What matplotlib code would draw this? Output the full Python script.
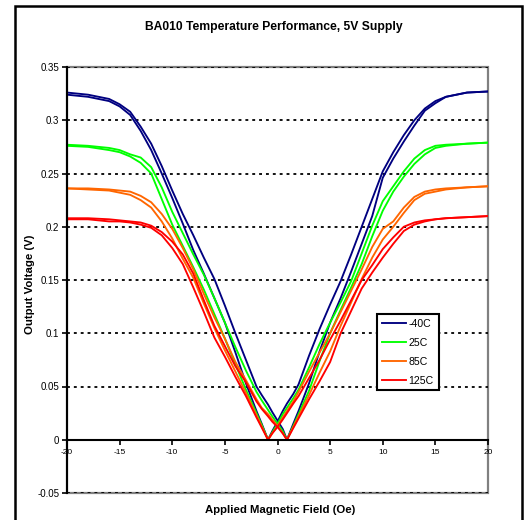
import matplotlib
matplotlib.use("Agg")
import matplotlib.pyplot as plt
from matplotlib.patches import Rectangle
from matplotlib.ticker import FuncFormatter

plt.rcParams["font.family"] = ["Liberation Sans", "DejaVu Sans"]

# applied field (Oe), common to all sweeps
field = [-20, -18, -16, -15, -14, -13, -12, -11, -10, -9, -8, -7, -6, -5, -4, -3, -2, -1.5, -0.9,
         -0.5, 0, 0.5, 0.9,
         1.5, 2, 3, 4, 5, 6, 7, 8, 9, 10, 11, 12, 13, 14, 15, 16, 18, 20]

# output voltage (V), two sweeps per temperature (hysteresis)
v_m40_a = [0.324, 0.322, 0.318, 0.313, 0.305, 0.290, 0.272, 0.250, 0.227, 0.203, 0.178, 0.156,
           0.133, 0.110, 0.082, 0.053, 0.027, 0.015, 0.000,
           0.008, 0.017, 0.027, 0.034,
           0.043, 0.052, 0.079, 0.104, 0.127, 0.149, 0.174, 0.200, 0.226, 0.252, 0.270, 0.286,
           0.300, 0.311, 0.318, 0.322, 0.326, 0.327]
v_m40_b = [0.326, 0.324, 0.320, 0.315, 0.308, 0.294, 0.278, 0.257, 0.234, 0.212, 0.192, 0.171,
           0.151, 0.126, 0.100, 0.075, 0.050, 0.042, 0.033,
           0.026, 0.018, 0.010, 0.000,
           0.015, 0.027, 0.053, 0.083, 0.110, 0.133, 0.158, 0.184, 0.210, 0.246, 0.264, 0.280,
           0.295, 0.309, 0.316, 0.322, 0.326, 0.327]
v_25_a = [0.276, 0.275, 0.272, 0.270, 0.266, 0.260, 0.250, 0.226, 0.202, 0.182, 0.162, 0.141,
          0.118, 0.095, 0.071, 0.047, 0.025, 0.014, 0.000,
          0.007, 0.015, 0.024, 0.030,
          0.039, 0.047, 0.068, 0.090, 0.110, 0.129, 0.149, 0.175, 0.201, 0.224, 0.238, 0.252,
          0.264, 0.272, 0.276, 0.277, 0.278, 0.279]
v_25_b = [0.277, 0.276, 0.274, 0.272, 0.268, 0.265, 0.256, 0.237, 0.214, 0.194, 0.174, 0.155,
          0.133, 0.110, 0.087, 0.065, 0.045, 0.037, 0.028,
          0.022, 0.015, 0.008, 0.000,
          0.013, 0.024, 0.046, 0.074, 0.100, 0.122, 0.143, 0.165, 0.191, 0.215, 0.233, 0.247,
          0.259, 0.268, 0.274, 0.276, 0.278, 0.279]
v_85_a = [0.236, 0.235, 0.234, 0.232, 0.230, 0.225, 0.218, 0.205, 0.189, 0.170, 0.152, 0.128,
          0.105, 0.084, 0.064, 0.044, 0.023, 0.0125, 0.000,
          0.006, 0.013, 0.021, 0.027,
          0.036, 0.045, 0.064, 0.082, 0.100, 0.120, 0.140, 0.160, 0.181, 0.198, 0.205, 0.218,
          0.228, 0.233, 0.235, 0.236, 0.237, 0.238]
v_85_b = [0.236, 0.236, 0.235, 0.234, 0.233, 0.229, 0.223, 0.212, 0.198, 0.180, 0.160, 0.137,
          0.115, 0.095, 0.073, 0.056, 0.038, 0.030, 0.024,
          0.019, 0.013, 0.006, 0.000,
          0.012, 0.022, 0.042, 0.063, 0.083, 0.107, 0.129, 0.151, 0.171, 0.188, 0.200, 0.213,
          0.225, 0.231, 0.233, 0.235, 0.237, 0.238]
v_125_a = [0.207, 0.207, 0.205, 0.205, 0.204, 0.202, 0.199, 0.192, 0.180, 0.165, 0.143, 0.120,
           0.096, 0.078, 0.059, 0.041, 0.021, 0.0115, 0.000,
           0.006, 0.012, 0.019, 0.025,
           0.034, 0.041, 0.058, 0.075, 0.094, 0.112, 0.131, 0.150, 0.164, 0.179, 0.190, 0.200,
           0.204, 0.206, 0.207, 0.208, 0.209, 0.210]
v_125_b = [0.208, 0.208, 0.207, 0.206, 0.205, 0.204, 0.201, 0.195, 0.186, 0.174, 0.156, 0.131,
           0.107, 0.088, 0.069, 0.054, 0.036, 0.029, 0.022,
           0.017, 0.012, 0.006, 0.000,
           0.011, 0.020, 0.038, 0.055, 0.073, 0.100, 0.121, 0.142, 0.157, 0.171, 0.184, 0.196,
           0.202, 0.205, 0.207, 0.208, 0.209, 0.210]

labels = ["-40C", "25C", "85C", "125C"]
colors = ["#000080", "#00FF00", "#FF6600", "#FF0000"]
sweeps = [(v_m40_a, v_m40_b), (v_25_a, v_25_b), (v_85_a, v_85_b), (v_125_a, v_125_b)]

x_ticks = [-20, -15, -10, -5, 0, 5, 10, 15, 20]
y_ticks = [-0.05, 0, 0.05, 0.1, 0.15, 0.2, 0.25, 0.3, 0.35]

fig = plt.figure(figsize=(5.32, 5.20), dpi=100)
W, H = 532, 520
ax = fig.add_axes([67 / W, 1 - 493 / H, (488 - 67) / W, (493 - 67) / H])

# outer frame of the chart
fig.patches.append(Rectangle((15 / W, -0.01), (522 - 15) / W, 1 - 6 / H + 0.01,
                             transform=fig.transFigure, fill=False,
                             edgecolor="black", linewidth=1.8))

ax.set_xlim(-20, 20)
ax.set_ylim(-0.05, 0.35)

# gray plot area border
ax.add_patch(Rectangle((0, 0), 1, 1, transform=ax.transAxes, fill=False,
                       edgecolor="#808080", linewidth=1.6, zorder=1, clip_on=False))

for y in y_ticks:
    if y != 0:
        ax.axhline(y, color="black", linestyle=(0, (1.6, 2.2)), linewidth=1.3, zorder=1.5)

for (a, b), c, lab in zip(sweeps, colors, labels):
    ax.plot(field, a, color=c, linewidth=1.35, label=lab, zorder=3)
    ax.plot(field, b, color=c, linewidth=1.35, zorder=3)

ax.spines["top"].set_visible(False)
ax.spines["right"].set_visible(False)
ax.spines["bottom"].set_position(("data", 0))
ax.spines["bottom"].set_linewidth(1.5)
ax.spines["left"].set_linewidth(1.5)
ax.spines["bottom"].set_zorder(4)
ax.spines["left"].set_zorder(4)

ax.set_xticks(x_ticks)
ax.set_yticks(y_ticks)
ax.xaxis.set_major_formatter(FuncFormatter(lambda v, p: "%g" % v))
ax.yaxis.set_major_formatter(FuncFormatter(lambda v, p: "%g" % v))
ax.tick_params(axis="x", direction="out", length=3.5, width=1.2, labelsize=6, pad=3)
ax.tick_params(axis="y", direction="out", length=3.5, width=1.2, labelsize=7, pad=2)

leg = ax.legend(loc="upper left", bbox_to_anchor=((377 - 67) / 421, (493 - 314) / 426),
                borderaxespad=0, fancybox=False, framealpha=1, edgecolor="black",
                fontsize=7.6, handlelength=2.3, handletextpad=0.25,
                labelspacing=0.85, borderpad=0.45)
leg.get_frame().set_linewidth(1.5)
leg.set_zorder(5)

fig.text(274 / W, 1 - 27 / H, "BA010 Temperature Performance, 5V Supply",
         ha="center", va="center", fontsize=8.7, fontweight="bold")
fig.text(280 / W, 1 - 510 / H, "Applied Magnetic Field (Oe)",
         ha="center", va="center", fontsize=8.2, fontweight="bold")
fig.text(30 / W, 1 - 284 / H, "Output Voltage (V)", rotation=90,
         ha="center", va="center", fontsize=8.2, fontweight="bold")

fig.savefig("out.png", dpi=100)
